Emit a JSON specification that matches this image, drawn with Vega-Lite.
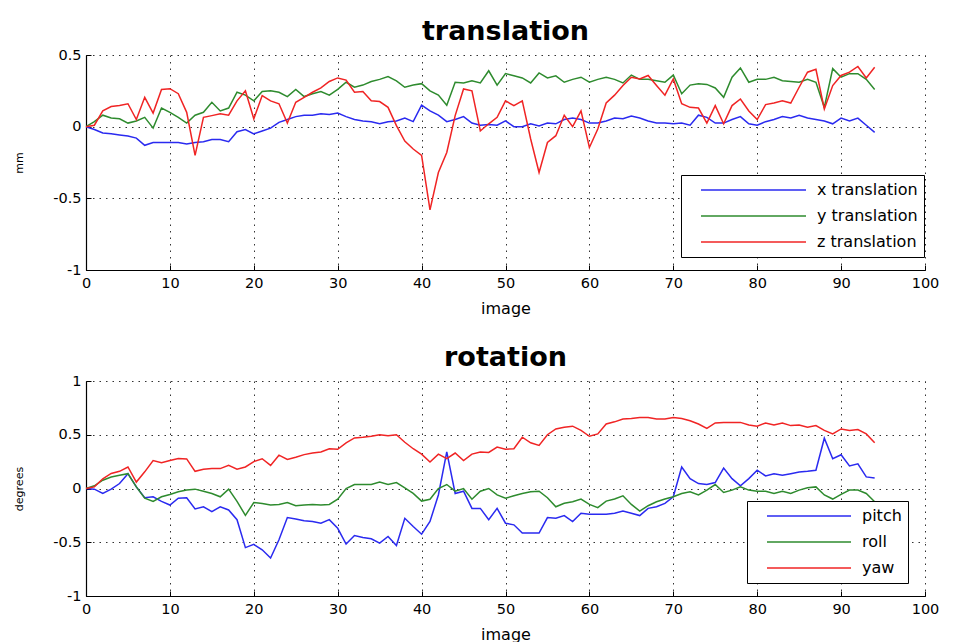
{
  "$schema": "https://vega.github.io/schema/vega-lite/v6.json",
  "padding": {"left": 13, "top": 18, "right": 5, "bottom": 0},
  "background": "white",
  "config": {
    "font": "DejaVu Sans",
    "view": {"stroke": null},
    "axis": {
      "domainColor": "black", "domainWidth": 1.2,
      "tickColor": "black", "tickSize": -5, "tickWidth": 1,
      "gridColor": "#333", "gridDash": [1.5, 5], "gridWidth": 1,
      "labelFont": "DejaVu Sans", "labelFontSize": 14.5, "labelColor": "black", "labelFlush": false,
      "titleFont": "DejaVu Sans", "titleFontWeight": "normal", "titleColor": "black"
    },
    "legend": {
      "orient": "none", "title": null, "symbolType": "stroke", "symbolStrokeWidth": 1.5,
      "strokeColor": "black", "fillColor": "white", "labelFont": "DejaVu Sans",
      "labelFontSize": 16, "labelColor": "black", "clipHeight": 18, "rowPadding": 8,
      "padding": 6, "symbolOffset": 13, "labelOffset": 10
    },
    "title": {"font": "DejaVu Sans", "fontSize": 27, "fontWeight": "bold", "color": "black", "offset": 1}
  },
  "datasets": {
    "trans": [
      {"i":0,"x translation":0,"y translation":0,"z translation":0},
      {"i":1,"x translation":-0.02,"y translation":0.035,"z translation":0.01},
      {"i":2,"x translation":-0.044,"y translation":0.08,"z translation":0.11},
      {"i":3,"x translation":-0.05,"y translation":0.06,"z translation":0.14},
      {"i":4,"x translation":-0.058,"y translation":0.055,"z translation":0.147},
      {"i":5,"x translation":-0.065,"y translation":0.025,"z translation":0.16},
      {"i":6,"x translation":-0.08,"y translation":0.04,"z translation":0.05},
      {"i":7,"x translation":-0.13,"y translation":0.065,"z translation":0.205},
      {"i":8,"x translation":-0.11,"y translation":-0.01,"z translation":0.095},
      {"i":9,"x translation":-0.11,"y translation":0.13,"z translation":0.26},
      {"i":10,"x translation":-0.11,"y translation":0.1,"z translation":0.265},
      {"i":11,"x translation":-0.11,"y translation":0.065,"z translation":0.23},
      {"i":12,"x translation":-0.12,"y translation":0.025,"z translation":0.1},
      {"i":13,"x translation":-0.11,"y translation":0.08,"z translation":-0.2},
      {"i":14,"x translation":-0.105,"y translation":0.1,"z translation":0.065},
      {"i":15,"x translation":-0.09,"y translation":0.17,"z translation":0.077},
      {"i":16,"x translation":-0.09,"y translation":0.11,"z translation":0.09},
      {"i":17,"x translation":-0.105,"y translation":0.13,"z translation":0.08},
      {"i":18,"x translation":-0.035,"y translation":0.24,"z translation":0.18},
      {"i":19,"x translation":-0.02,"y translation":0.22,"z translation":0.25},
      {"i":20,"x translation":-0.05,"y translation":0.18,"z translation":0.055},
      {"i":21,"x translation":-0.03,"y translation":0.245,"z translation":0.217},
      {"i":22,"x translation":-0.01,"y translation":0.25,"z translation":0.18},
      {"i":23,"x translation":0.03,"y translation":0.24,"z translation":0.16},
      {"i":24,"x translation":0.05,"y translation":0.21,"z translation":0.025},
      {"i":25,"x translation":0.07,"y translation":0.26,"z translation":0.17},
      {"i":26,"x translation":0.08,"y translation":0.21,"z translation":0.205},
      {"i":27,"x translation":0.08,"y translation":0.23,"z translation":0.24},
      {"i":28,"x translation":0.09,"y translation":0.245,"z translation":0.27},
      {"i":29,"x translation":0.085,"y translation":0.22,"z translation":0.315},
      {"i":30,"x translation":0.095,"y translation":0.26,"z translation":0.34},
      {"i":31,"x translation":0.07,"y translation":0.31,"z translation":0.325},
      {"i":32,"x translation":0.05,"y translation":0.275,"z translation":0.24},
      {"i":33,"x translation":0.04,"y translation":0.29,"z translation":0.245},
      {"i":34,"x translation":0.035,"y translation":0.315,"z translation":0.18},
      {"i":35,"x translation":0.02,"y translation":0.33,"z translation":0.175},
      {"i":36,"x translation":0.035,"y translation":0.35,"z translation":0.135},
      {"i":37,"x translation":0.04,"y translation":0.32,"z translation":0.007},
      {"i":38,"x translation":0.06,"y translation":0.275,"z translation":-0.1},
      {"i":39,"x translation":0.035,"y translation":0.29,"z translation":-0.156},
      {"i":40,"x translation":0.15,"y translation":0.3,"z translation":-0.2},
      {"i":41,"x translation":0.11,"y translation":0.25,"z translation":-0.58},
      {"i":42,"x translation":0.08,"y translation":0.22,"z translation":-0.32},
      {"i":43,"x translation":0.035,"y translation":0.15,"z translation":-0.18},
      {"i":44,"x translation":0.05,"y translation":0.31,"z translation":0.077},
      {"i":45,"x translation":0.07,"y translation":0.305,"z translation":0.263},
      {"i":46,"x translation":0.025,"y translation":0.32,"z translation":0.25},
      {"i":47,"x translation":0.01,"y translation":0.305,"z translation":-0.03},
      {"i":48,"x translation":0.015,"y translation":0.39,"z translation":0.02},
      {"i":49,"x translation":0.01,"y translation":0.29,"z translation":0.065},
      {"i":50,"x translation":0.04,"y translation":0.37,"z translation":0.18},
      {"i":51,"x translation":0,"y translation":0.355,"z translation":0.147},
      {"i":52,"x translation":0,"y translation":0.34,"z translation":0.18},
      {"i":53,"x translation":0.02,"y translation":0.305,"z translation":-0.086},
      {"i":54,"x translation":0.005,"y translation":0.375,"z translation":-0.32},
      {"i":55,"x translation":0.025,"y translation":0.34,"z translation":-0.11},
      {"i":56,"x translation":0.02,"y translation":0.355,"z translation":-0.063},
      {"i":57,"x translation":0.05,"y translation":0.31,"z translation":0.08},
      {"i":58,"x translation":0.06,"y translation":0.33,"z translation":0},
      {"i":59,"x translation":0.05,"y translation":0.345,"z translation":0.11},
      {"i":60,"x translation":0.025,"y translation":0.31,"z translation":-0.145},
      {"i":61,"x translation":0.025,"y translation":0.33,"z translation":-0.016},
      {"i":62,"x translation":0.04,"y translation":0.345,"z translation":0.165},
      {"i":63,"x translation":0.06,"y translation":0.33,"z translation":0.22},
      {"i":64,"x translation":0.055,"y translation":0.305,"z translation":0.287},
      {"i":65,"x translation":0.075,"y translation":0.36,"z translation":0.345},
      {"i":66,"x translation":0.06,"y translation":0.33,"z translation":0.333},
      {"i":67,"x translation":0.04,"y translation":0.33,"z translation":0.357},
      {"i":68,"x translation":0.025,"y translation":0.32,"z translation":0.287},
      {"i":69,"x translation":0.025,"y translation":0.31,"z translation":0.22},
      {"i":70,"x translation":0.02,"y translation":0.36,"z translation":0.333},
      {"i":71,"x translation":0.025,"y translation":0.23,"z translation":0.16},
      {"i":72,"x translation":0.01,"y translation":0.29,"z translation":0.135},
      {"i":73,"x translation":0.08,"y translation":0.3,"z translation":0.13},
      {"i":74,"x translation":0.065,"y translation":0.295,"z translation":0.025},
      {"i":75,"x translation":0.025,"y translation":0.27,"z translation":0.147},
      {"i":76,"x translation":0.025,"y translation":0.205,"z translation":0.02},
      {"i":77,"x translation":0.05,"y translation":0.345,"z translation":0.147},
      {"i":78,"x translation":0.07,"y translation":0.41,"z translation":0.193},
      {"i":79,"x translation":0.02,"y translation":0.31,"z translation":0.11},
      {"i":80,"x translation":0.01,"y translation":0.33,"z translation":0.05},
      {"i":81,"x translation":0.035,"y translation":0.33,"z translation":0.154},
      {"i":82,"x translation":0.05,"y translation":0.345,"z translation":0.165},
      {"i":83,"x translation":0.07,"y translation":0.32,"z translation":0.18},
      {"i":84,"x translation":0.06,"y translation":0.315,"z translation":0.165},
      {"i":85,"x translation":0.08,"y translation":0.31,"z translation":0.275},
      {"i":86,"x translation":0.06,"y translation":0.33,"z translation":0.38},
      {"i":87,"x translation":0.05,"y translation":0.31,"z translation":0.4},
      {"i":88,"x translation":0.04,"y translation":0.135,"z translation":0.124},
      {"i":89,"x translation":0.02,"y translation":0.405,"z translation":0.287},
      {"i":90,"x translation":0.06,"y translation":0.345,"z translation":0.357},
      {"i":91,"x translation":0.04,"y translation":0.37,"z translation":0.38},
      {"i":92,"x translation":0.06,"y translation":0.37,"z translation":0.42},
      {"i":93,"x translation":0.01,"y translation":0.33,"z translation":0.34},
      {"i":94,"x translation":-0.04,"y translation":0.26,"z translation":0.415}
    ],
    "rot": [
      {"i":0,"pitch":0,"roll":0,"yaw":0},
      {"i":1,"pitch":-0.006,"roll":0.025,"yaw":0.015},
      {"i":2,"pitch":-0.046,"roll":0.077,"yaw":0.09},
      {"i":3,"pitch":-0.006,"roll":0.107,"yaw":0.14},
      {"i":4,"pitch":0.046,"roll":0.123,"yaw":0.16},
      {"i":5,"pitch":0.138,"roll":0.138,"yaw":0.2},
      {"i":6,"pitch":0.015,"roll":0.015,"yaw":0.06},
      {"i":7,"pitch":-0.086,"roll":-0.09,"yaw":0.155},
      {"i":8,"pitch":-0.077,"roll":-0.12,"yaw":0.26},
      {"i":9,"pitch":-0.12,"roll":-0.077,"yaw":0.24},
      {"i":10,"pitch":-0.154,"roll":-0.055,"yaw":0.26},
      {"i":11,"pitch":-0.09,"roll":-0.03,"yaw":0.28},
      {"i":12,"pitch":-0.086,"roll":-0.015,"yaw":0.275},
      {"i":13,"pitch":-0.19,"roll":-0.006,"yaw":0.16},
      {"i":14,"pitch":-0.17,"roll":-0.025,"yaw":0.18},
      {"i":15,"pitch":-0.215,"roll":-0.046,"yaw":0.185},
      {"i":16,"pitch":-0.17,"roll":-0.077,"yaw":0.185},
      {"i":17,"pitch":-0.2,"roll":-0.006,"yaw":0.215},
      {"i":18,"pitch":-0.29,"roll":-0.12,"yaw":0.18},
      {"i":19,"pitch":-0.55,"roll":-0.25,"yaw":0.2},
      {"i":20,"pitch":-0.52,"roll":-0.13,"yaw":0.25},
      {"i":21,"pitch":-0.57,"roll":-0.14,"yaw":0.277},
      {"i":22,"pitch":-0.646,"roll":-0.154,"yaw":0.215},
      {"i":23,"pitch":-0.477,"roll":-0.148,"yaw":0.31},
      {"i":24,"pitch":-0.27,"roll":-0.13,"yaw":0.27},
      {"i":25,"pitch":-0.283,"roll":-0.16,"yaw":0.29},
      {"i":26,"pitch":-0.3,"roll":-0.154,"yaw":0.315},
      {"i":27,"pitch":-0.307,"roll":-0.148,"yaw":0.33},
      {"i":28,"pitch":-0.323,"roll":-0.154,"yaw":0.34},
      {"i":29,"pitch":-0.29,"roll":-0.148,"yaw":0.37},
      {"i":30,"pitch":-0.37,"roll":-0.1,"yaw":0.365},
      {"i":31,"pitch":-0.517,"roll":0,"yaw":0.425},
      {"i":32,"pitch":-0.437,"roll":0.037,"yaw":0.47},
      {"i":33,"pitch":-0.455,"roll":0.037,"yaw":0.477},
      {"i":34,"pitch":-0.468,"roll":0.037,"yaw":0.486},
      {"i":35,"pitch":-0.508,"roll":0.06,"yaw":0.5},
      {"i":36,"pitch":-0.446,"roll":0.037,"yaw":0.49},
      {"i":37,"pitch":-0.53,"roll":0.055,"yaw":0.5},
      {"i":38,"pitch":-0.277,"roll":0.006,"yaw":0.43},
      {"i":39,"pitch":-0.354,"roll":-0.046,"yaw":0.37},
      {"i":40,"pitch":-0.425,"roll":-0.117,"yaw":0.32},
      {"i":41,"pitch":-0.307,"roll":-0.1,"yaw":0.246},
      {"i":42,"pitch":-0.06,"roll":0,"yaw":0.32},
      {"i":43,"pitch":0.34,"roll":0.037,"yaw":0.277},
      {"i":44,"pitch":-0.046,"roll":-0.025,"yaw":0.33},
      {"i":45,"pitch":-0.025,"roll":0,"yaw":0.26},
      {"i":46,"pitch":-0.185,"roll":-0.1,"yaw":0.32},
      {"i":47,"pitch":-0.185,"roll":-0.025,"yaw":0.34},
      {"i":48,"pitch":-0.29,"roll":0,"yaw":0.335},
      {"i":49,"pitch":-0.185,"roll":-0.06,"yaw":0.385},
      {"i":50,"pitch":-0.323,"roll":-0.09,"yaw":0.365},
      {"i":51,"pitch":-0.338,"roll":-0.068,"yaw":0.37},
      {"i":52,"pitch":-0.415,"roll":-0.046,"yaw":0.477},
      {"i":53,"pitch":-0.415,"roll":-0.03,"yaw":0.425},
      {"i":54,"pitch":-0.415,"roll":-0.025,"yaw":0.4},
      {"i":55,"pitch":-0.27,"roll":-0.086,"yaw":0.5},
      {"i":56,"pitch":-0.277,"roll":-0.17,"yaw":0.554},
      {"i":57,"pitch":-0.252,"roll":-0.138,"yaw":0.57},
      {"i":58,"pitch":-0.307,"roll":-0.123,"yaw":0.58},
      {"i":59,"pitch":-0.23,"roll":-0.098,"yaw":0.54},
      {"i":60,"pitch":-0.24,"roll":-0.148,"yaw":0.486},
      {"i":61,"pitch":-0.24,"roll":-0.178,"yaw":0.508},
      {"i":62,"pitch":-0.24,"roll":-0.117,"yaw":0.6},
      {"i":63,"pitch":-0.23,"roll":-0.098,"yaw":0.62},
      {"i":64,"pitch":-0.21,"roll":-0.068,"yaw":0.646},
      {"i":65,"pitch":-0.23,"roll":-0.148,"yaw":0.652},
      {"i":66,"pitch":-0.252,"roll":-0.21,"yaw":0.66},
      {"i":67,"pitch":-0.185,"roll":-0.16,"yaw":0.66},
      {"i":68,"pitch":-0.17,"roll":-0.123,"yaw":0.646},
      {"i":69,"pitch":-0.138,"roll":-0.098,"yaw":0.646},
      {"i":70,"pitch":-0.077,"roll":-0.077,"yaw":0.66},
      {"i":71,"pitch":0.2,"roll":-0.046,"yaw":0.652},
      {"i":72,"pitch":0.092,"roll":-0.03,"yaw":0.63},
      {"i":73,"pitch":0.046,"roll":-0.06,"yaw":0.6},
      {"i":74,"pitch":0.037,"roll":-0.015,"yaw":0.56},
      {"i":75,"pitch":0.055,"roll":0.037,"yaw":0.61},
      {"i":76,"pitch":0.19,"roll":-0.037,"yaw":0.615},
      {"i":77,"pitch":0.092,"roll":-0.015,"yaw":0.615},
      {"i":78,"pitch":0.025,"roll":0.015,"yaw":0.615},
      {"i":79,"pitch":0.092,"roll":-0.015,"yaw":0.59},
      {"i":80,"pitch":0.17,"roll":-0.025,"yaw":0.58},
      {"i":81,"pitch":0.117,"roll":-0.025,"yaw":0.61},
      {"i":82,"pitch":0.138,"roll":-0.046,"yaw":0.59},
      {"i":83,"pitch":0.123,"roll":-0.025,"yaw":0.61},
      {"i":84,"pitch":0.138,"roll":-0.046,"yaw":0.585},
      {"i":85,"pitch":0.154,"roll":-0.015,"yaw":0.59},
      {"i":86,"pitch":0.16,"roll":0.006,"yaw":0.57},
      {"i":87,"pitch":0.17,"roll":0.015,"yaw":0.585},
      {"i":88,"pitch":0.468,"roll":-0.06,"yaw":0.54},
      {"i":89,"pitch":0.277,"roll":-0.098,"yaw":0.508},
      {"i":90,"pitch":0.314,"roll":-0.055,"yaw":0.554},
      {"i":91,"pitch":0.21,"roll":-0.015,"yaw":0.54},
      {"i":92,"pitch":0.23,"roll":-0.015,"yaw":0.548},
      {"i":93,"pitch":0.108,"roll":-0.046,"yaw":0.508},
      {"i":94,"pitch":0.098,"roll":-0.123,"yaw":0.425}
    ]
  },
  "spacing": 27,
  "resolve": {"scale": {"color": "independent"}},
  "vconcat": [
    {
      "title": {"text": "translation"},
      "width": 839,
      "height": 215,
      "data": {"name": "trans"},
      "transform": [{"fold": ["x translation", "y translation", "z translation"], "as": ["series", "value"]}],
      "mark": {"type": "line", "strokeWidth": 1.5},
      "encoding": {
        "x": {"field": "i", "type": "quantitative", "title": "image",
              "scale": {"domain": [0, 100], "nice": false},
              "axis": {"values": [0,10,20,30,40,50,60,70,80,90,100], "labelPadding": 11, "titleFontSize": 16, "titlePadding": 11, "labelExpr": "'' + datum.value"}},
        "y": {"field": "value", "type": "quantitative", "title": "mm",
              "scale": {"domain": [-1, 0.5], "nice": false},
              "axis": {"values": [-1, -0.5, 0, 0.5], "labelPadding": 10, "titleFontSize": 11, "titlePadding": 28, "labelExpr": "'' + datum.value"}},
        "color": {"field": "series", "type": "nominal",
                  "scale": {"domain": ["x translation", "y translation", "z translation"], "range": ["#2a2af0", "#2e8b2e", "#f02424"]},
                  "legend": {"legendX": 595, "legendY": 120, "symbolSize": 11025}}
      }
    },
    {
      "title": {"text": "rotation"},
      "width": 839,
      "height": 215,
      "data": {"name": "rot"},
      "transform": [{"fold": ["pitch", "roll", "yaw"], "as": ["series", "value"]}],
      "mark": {"type": "line", "strokeWidth": 1.5},
      "encoding": {
        "x": {"field": "i", "type": "quantitative", "title": "image",
              "scale": {"domain": [0, 100], "nice": false},
              "axis": {"values": [0,10,20,30,40,50,60,70,80,90,100], "labelPadding": 11, "titleFontSize": 16, "titlePadding": 11, "labelExpr": "'' + datum.value"}},
        "y": {"field": "value", "type": "quantitative", "title": "degrees",
              "scale": {"domain": [-1, 1], "nice": false},
              "axis": {"values": [-1, -0.5, 0, 0.5, 1], "labelPadding": 10, "titleFontSize": 11, "titlePadding": 28, "labelExpr": "'' + datum.value"}},
        "color": {"field": "series", "type": "nominal",
                  "scale": {"domain": ["pitch", "roll", "yaw"], "range": ["#2a2af0", "#2e8b2e", "#f02424"]},
                  "legend": {"legendX": 661, "legendY": 120, "symbolSize": 7056}}
      }
    }
  ]
}
